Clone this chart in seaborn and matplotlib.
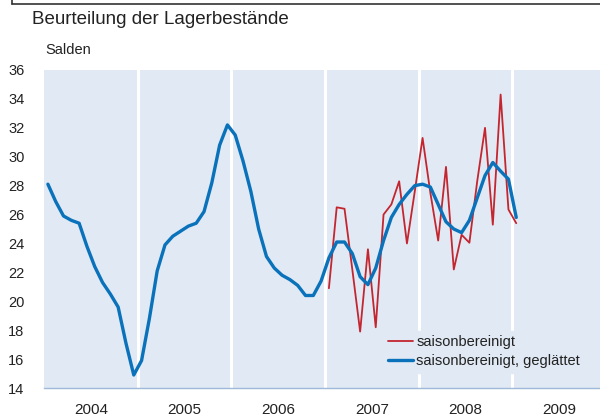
import numpy as np
import pandas as pd
import matplotlib
matplotlib.use("Agg")
import matplotlib.pyplot as plt
import seaborn as sns
from matplotlib.lines import Line2D

# monthly values, Jan 2004 .. Jan 2009
smoothed = [
    28.1, 26.9, 25.9, 25.6, 25.4, 23.8, 22.4, 21.3, 20.5, 19.6, 17.1, 14.9,
    15.9, 18.8, 22.1, 23.9, 24.5, 24.85, 25.2, 25.4, 26.2, 28.2, 30.8, 32.2,
    31.5, 29.7, 27.6, 25.0, 23.1, 22.3, 21.8, 21.5, 21.1, 20.4, 20.4, 21.4,
    23.0, 24.1, 24.1, 23.3, 21.7, 21.15, 22.3, 24.2, 25.8, 26.7, 27.4, 28.0,
    28.1, 27.9, 26.7, 25.5, 25.0, 24.75, 25.6, 27.15, 28.7, 29.6, 29.0, 28.45,
    25.8,
]
# monthly values, Jan 2007 .. Jan 2009
adjusted = [
    20.9, 26.5, 26.4, 22.2, 17.9, 23.6, 18.2, 26.0, 26.7, 28.3, 24.0, 27.6,
    31.3, 27.5, 24.2, 29.3, 22.2, 24.6, 24.05, 28.3, 32.0, 25.3, 34.3, 26.35,
    25.4,
]
years = [2004, 2005, 2006, 2007, 2008, 2009]
yticks = list(range(14, 37, 2))

bg = "#e1e9f4"
blue = "#0a72ba"
red = "#c3262f"
axis_col = "#9fb9da"

def month_pos(start_year, n):
    return [start_year + (i + 0.5) / 12 for i in range(n)]

df_s = pd.DataFrame({"x": month_pos(2004, len(smoothed)), "y": smoothed})
df_a = pd.DataFrame({"x": month_pos(2007, len(adjusted)), "y": adjusted})

sns.set_style("white")
plt.rcParams["font.family"] = ["Liberation Sans", "DejaVu Sans"]

fig = plt.figure(figsize=(6, 4.19), dpi=100)
ax = fig.add_axes([44 / 600, 31 / 419, 562 / 600, 318 / 419])
ax.set_facecolor(bg)

for yr in years[1:]:
    ax.axvline(yr, color="white", lw=2.2, zorder=1)

sns.lineplot(data=df_a, x="x", y="y", ax=ax, color=red, lw=1.3,
             label="saisonbereinigt", zorder=3)
sns.lineplot(data=df_s, x="x", y="y", ax=ax, color=blue, lw=2.4,
             label="saisonbereinigt, geglättet", zorder=4)

ax.set_xlim(2004, 2010)
ax.set_ylim(14, 36)
ax.set_xlabel("")
ax.set_ylabel("")

ax.set_xticks(years + [2010])
ax.set_xticklabels([])
ax.set_xticks([y + 0.5 for y in years], minor=True)
ax.set_xticklabels([str(y) for y in years], minor=True)
ax.tick_params(axis="x", which="major", length=5, width=1, color=axis_col, direction="out")
ax.tick_params(axis="x", which="minor", length=0, pad=11, labelsize=11, labelcolor="#222222")
ax.set_yticks(yticks)
ax.tick_params(axis="y", length=0, pad=14, labelsize=10.5, labelcolor="#222222")

for side in ["top", "right", "left"]:
    ax.spines[side].set_visible(False)
ax.spines["bottom"].set_color(axis_col)
ax.spines["bottom"].set_linewidth(1)

leg = ax.legend(loc="upper left", bbox_to_anchor=(0.605, 0.18), frameon=True,
                facecolor=bg, edgecolor=bg, framealpha=1, fontsize=10.5,
                handlelength=1.7, handletextpad=0.2, borderpad=0.3,
                labelspacing=0.35, borderaxespad=0)
leg.set_zorder(5)
for txt in leg.get_texts():
    txt.set_color("#222222")

fig.text(32 / 600, 1 - 20 / 419, "Beurteilung der Lagerbestände", fontsize=13.5,
         color="#222222", va="center", ha="left")
fig.text(45 / 600, 1 - 50 / 419, "Salden", fontsize=10.5, color="#222222",
         va="center", ha="left")

# remnant of a box border at the top
fig.add_artist(Line2D([12 / 600, 1.0], [1 - 4 / 419, 1 - 4 / 419], color="#333333", lw=1.2))
fig.add_artist(Line2D([12 / 600, 12 / 600], [1 - 4 / 419, 1.0], color="#333333", lw=1.2))

fig.savefig("out.png", dpi=100)
